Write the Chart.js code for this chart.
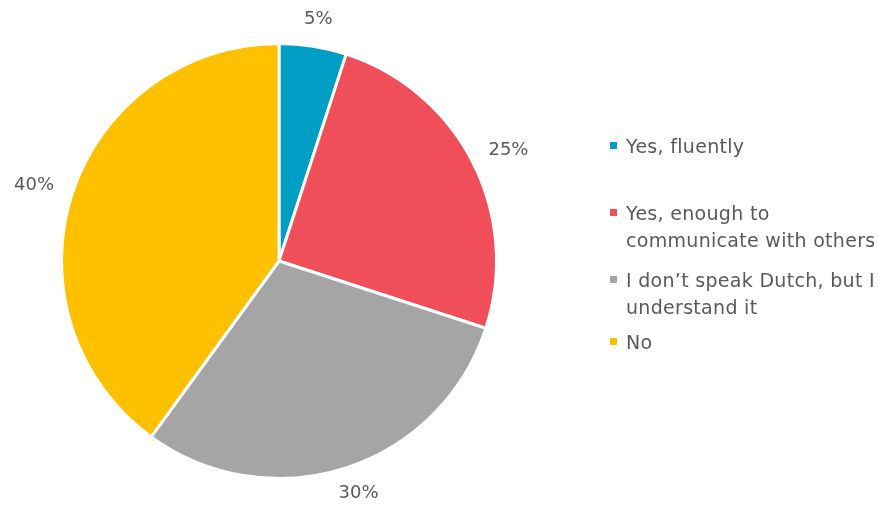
<!DOCTYPE html>
<html>
<head>
<meta charset="utf-8">
<script src="https://cdn.jsdelivr.net/npm/chart.js@4.4.1/dist/chart.umd.min.js"></script>
<style>
  html, body { margin: 0; padding: 0; background: #ffffff; }
  #wrap { width: 878px; height: 507px; position: relative; }
</style>
</head>
<body>
<div id="wrap"><canvas id="pie"></canvas></div>
<script>
const categories = [
    ["Yes, fluently"],
    ["Yes, enough to", "communicate with others"],
    ["I don\u2019t speak Dutch, but I", "understand it"],
    ["No"],
];
const shares = [5, 25, 30, 40];
const colors = ["#009DC4", "#F04E58", "#A5A5A5", "#FFC000"];

/* legend placement: baseline of each entry's first line */
const legendX = 610;
const legendBaselines = [153, 220, 287, 349];
const legendLineHeight = 27;

const textColor = "#595959";
const fontFamily = "'DejaVu Sans', sans-serif";

/* percent labels just outside each slice */
const outsideLabels = {
    id: "outsideLabels",
    afterDatasetsDraw(chart) {
        const ctx = chart.ctx;
        const meta = chart.getDatasetMeta(0);
        ctx.save();
        ctx.font = "18px " + fontFamily;
        ctx.fillStyle = textColor;
        ctx.textAlign = "center";
        ctx.textBaseline = "middle";
        meta.data.forEach((arc, i) => {
            const mid = (arc.startAngle + arc.endAngle) / 2;
            const text = shares[i] + "%";
            const w = ctx.measureText(text).width;
            const h = 14;
            const cos = Math.cos(mid), sin = Math.sin(mid);
            const d = arc.outerRadius + 20;
            const x = arc.x + d * cos + (w / 2) * cos;
            const y = arc.y + d * sin + (h / 2) * sin;
            ctx.fillText(text, x, y);
        });
        ctx.restore();
    },
};

/* legend with wrapped entries on the right */
const sideLegend = {
    id: "sideLegend",
    afterDraw(chart) {
        const ctx = chart.ctx;
        ctx.save();
        ctx.font = "19px " + fontFamily;
        ctx.letterSpacing = "0.3px";
        ctx.textBaseline = "alphabetic";
        categories.forEach((lines, i) => {
            const base = legendBaselines[i];
            ctx.fillStyle = colors[i];
            ctx.fillRect(legendX, base - 11, 7, 7);
            ctx.fillStyle = textColor;
            lines.forEach((line, j) => {
                ctx.fillText(line, legendX + 16, base + j * legendLineHeight);
            });
        });
        ctx.restore();
    },
};

new Chart(document.getElementById("pie"), {
    type: "pie",
    data: {
        labels: categories.map(l => l.join(" ")),
        datasets: [{
            data: shares,
            backgroundColor: colors,
            borderColor: "#ffffff",
            borderWidth: 3,
        }],
    },
    options: {
        responsive: true,
        maintainAspectRatio: false,
        animation: false,
        layout: {
            padding: { left: 60, top: 42, right: 380, bottom: 27 },
        },
        plugins: {
            legend: { display: false },
            tooltip: { enabled: false },
        },
    },
    plugins: [outsideLabels, sideLegend],
});
</script>
</body>
</html>
